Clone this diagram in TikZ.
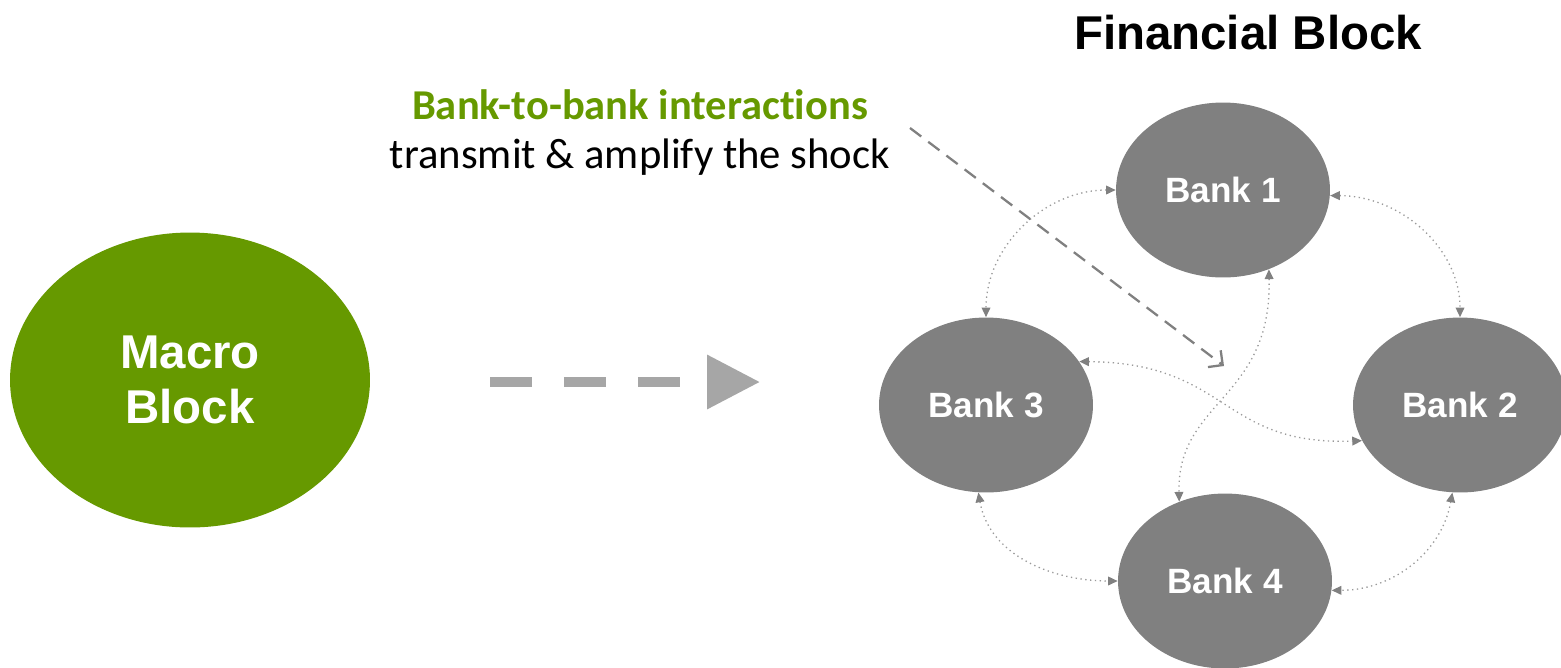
\documentclass[tikz,border=0pt]{standalone}
\usepackage{fontspec}
\setmainfont{Liberation Sans}
\newfontfamily\calibri[Ligatures=NoCommon]{Carlito}
\usetikzlibrary{shapes.geometric,arrows.meta}
\definecolor{macrogreen}{HTML}{669900}
\definecolor{bankgray}{HTML}{808080}
\definecolor{shockgray}{HTML}{A6A6A6}
\definecolor{linkgray}{HTML}{9A9A9A}
\begin{document}
\begin{tikzpicture}[x=0.02cm,y=-0.02cm,
  bank/.style={ellipse, fill=bankgray, text=white, inner sep=0pt,
    minimum width=4.28cm, minimum height=3.5cm,
    font=\bfseries\fontsize{20}{24}\selectfont},
  link/.style={draw=linkgray, line width=0.75pt, dotted,
    {Triangle[length=5.5pt,width=5pt,color=bankgray]}-{Triangle[length=5.5pt,width=5pt,color=bankgray]}}]
\useasboundingbox (0,0) rectangle (1561,667);

\node[ellipse, fill=macrogreen, text=white, inner sep=0pt, minimum width=7.2cm, minimum height=5.9cm,
  align=center, font=\bfseries\fontsize{27}{31}\selectfont] (macro) at (190,380) {Macro\\Block};

\node[bank] (b1) at (1223,190) {Bank 1};
\node[bank] (b2) at (1460,405) {Bank 2};
\node[bank] (b3) at (986,405) {Bank 3};
\node[bank] (b4) at (1225,581) {Bank 4};

\node[font=\bfseries\fontsize{27}{32}\selectfont] (fin) at (1248,33) {Financial Block};
\node[anchor=base, text=macrogreen, font=\calibri\bfseries\fontsize{24.2}{29}\selectfont] (inter) at (640,119) {Bank-to-bank interactions};
\node[anchor=base, font=\calibri\fontsize{24.3}{29}\selectfont] (trans) at (640,168) {transmit \& amplify the shock};

% shock from the macro block
\coordinate (s0) at (490,382);
\coordinate (s1) at (760,382);
\path[draw=shockgray, line width=5.7pt, dash pattern=on 0.84cm off 0.64cm,
  -{Triangle[length=1.06cm,width=1.04cm]}] (s0) -- (s1);

% pointer to the interactions
\coordinate (ptr) at (910,128);
\coordinate (hit) at (1224,366);
\path[draw=bankgray, line width=1.3pt, dash pattern=on 8pt off 5pt,
  -{Straight Barb[length=6pt,width=12pt]}] (ptr) -- (hit);

\path[link] (b1.180) to[out=180,in=90] (b3.north);
\path[link] (b1.-3) to[out=0,in=90] (b2.north);
\path[link] (b3.265) to[out=-80,in=180] (b4.180);
\path[link] (b2.265) to[out=-100,in=0] (b4.-5);
\path[link] (b3.25) .. controls (1230,363) and (1220,446) .. (b2.200);
\path[link] (b1.-60) .. controls (1272,400) and (1177,400) .. (b4.120);
\end{tikzpicture}
\end{document}
